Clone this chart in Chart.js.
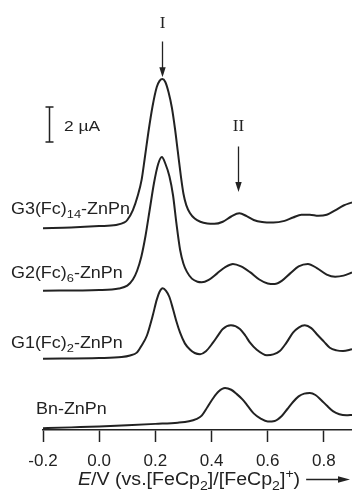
<!DOCTYPE html>
<html>
<head>
<meta charset="UTF-8">
<title>DPV of G(n)(Fc)-ZnPn</title>
<script src="https://cdn.jsdelivr.net/npm/chart.js"></script>
<style>
  html, body { margin: 0; padding: 0; background: #fff; }
</style>
</head>
<body>
<canvas id="chart" width="352" height="494"></canvas>
<script>
// names use _{..} for subscripts
const seriesNames = ['G3(Fc)_{14}-ZnPn', 'G2(Fc)_{6}-ZnPn', 'G1(Fc)_{2}-ZnPn', 'Bn-ZnPn'];
const offsets = [11.5, 7.9, 4.0, 0]; // µA shift of each trace

const g3E = [-0.2, -0.1, 0.0, 0.06, 0.09, 0.10, 0.12, 0.138, 0.151, 0.162, 0.175, 0.19, 0.205, 0.215, 0.225, 0.235, 0.247, 0.259, 0.27, 0.28, 0.29, 0.30, 0.31, 0.323, 0.34, 0.36, 0.385, 0.41, 0.44, 0.47, 0.499, 0.525, 0.55, 0.58, 0.62, 0.66, 0.69, 0.72, 0.75, 0.78, 0.81, 0.84, 0.87, 0.9];
const g3I = [0.03, 0.07, 0.15, 0.22, 0.36, 0.5, 1.07, 1.93, 2.79, 4.0, 5.5, 7.0, 8.1, 8.45, 8.56, 8.4, 7.8, 6.9, 5.7, 4.4, 3.1, 2.0, 1.35, 0.9, 0.58, 0.40, 0.30, 0.28, 0.40, 0.70, 0.88, 0.72, 0.50, 0.38, 0.35, 0.45, 0.64, 0.80, 0.80, 0.74, 0.80, 1.05, 1.33, 1.50];

const g2E = [-0.2, 0.0, 0.07, 0.10, 0.12, 0.135, 0.15, 0.165, 0.18, 0.195, 0.21, 0.223, 0.236, 0.25, 0.263, 0.275, 0.288, 0.30, 0.312, 0.33, 0.35, 0.365, 0.39, 0.42, 0.45, 0.476, 0.505, 0.537, 0.57, 0.60, 0.625, 0.65, 0.68, 0.71, 0.743, 0.775, 0.81, 0.84, 0.87, 0.9];
const g2I = [0.06, 0.10, 0.19, 0.35, 0.70, 1.20, 2.0, 3.2, 4.7, 6.2, 7.3, 7.70, 7.3, 6.6, 5.5, 3.9, 2.4, 1.6, 1.15, 0.75, 0.57, 0.54, 0.68, 1.05, 1.42, 1.59, 1.45, 1.12, 0.70, 0.47, 0.44, 0.62, 1.05, 1.45, 1.59, 1.35, 0.98, 0.86, 0.92, 1.10];

const g1E = [-0.2, 0.0, 0.08, 0.11, 0.134, 0.15, 0.17, 0.19, 0.205, 0.215, 0.226, 0.238, 0.25, 0.263, 0.275, 0.288, 0.305, 0.323, 0.34, 0.359, 0.38, 0.405, 0.425, 0.44, 0.469, 0.501, 0.52, 0.537, 0.56, 0.597, 0.62, 0.643, 0.665, 0.69, 0.71, 0.732, 0.755, 0.775, 0.80, 0.821, 0.845, 0.868, 0.9];
const g1I = [0.07, 0.11, 0.17, 0.26, 0.42, 0.80, 1.40, 2.50, 3.45, 3.90, 4.10, 3.95, 3.60, 2.90, 2.20, 1.56, 0.95, 0.60, 0.40, 0.33, 0.50, 0.99, 1.45, 1.77, 1.98, 1.77, 1.40, 0.99, 0.60, 0.27, 0.32, 0.51, 0.95, 1.56, 1.85, 1.98, 1.82, 1.47, 1.05, 0.70, 0.55, 0.51, 0.61];

const bnE = [-0.2, -0.1, 0.0, 0.1, 0.2, 0.28, 0.32, 0.345, 0.365, 0.385, 0.405, 0.425, 0.448, 0.47, 0.49, 0.51, 0.53, 0.55, 0.575, 0.60, 0.625, 0.65, 0.67, 0.69, 0.71, 0.73, 0.75, 0.77, 0.79, 0.81, 0.832, 0.855, 0.88, 0.9];
const bnI = [0.10, 0.15, 0.20, 0.27, 0.35, 0.42, 0.50, 0.62, 0.82, 1.30, 1.80, 2.20, 2.40, 2.30, 2.05, 1.75, 1.35, 0.95, 0.65, 0.49, 0.52, 0.80, 1.20, 1.60, 1.92, 2.08, 2.11, 2.00, 1.72, 1.40, 1.08, 0.90, 0.84, 0.86];

const xTicks = [-0.2, 0.0, 0.2, 0.4, 0.6, 0.8];
const xTitle = '*E*/V (vs.[FeCp_{2}]/[FeCp_{2}]^{+})';
const peakLabels = ['I', 'II'];
const peakE = [0.225, 0.494];
const scaleBarLabel = '2 µA';

const ink = '#222';
const sans = '"Liberation Sans", Arial, Helvetica, sans-serif';
const serif = '"Liberation Serif", "Times New Roman", serif';
const stretch = 1.12; // the printed lettering is a bit wider than Arial

const curves = [[g3E, g3I], [g2E, g2I], [g1E, g1I], [bnE, bnI]];
const datasets = curves.map(([E, I], k) => ({
  label: seriesNames[k],
  data: E.map((e, j) => ({ x: e, y: I[j] + offsets[k] })),
  borderColor: ink,
  borderWidth: 2,
  pointRadius: 0,
  fill: false,
  cubicInterpolationMode: 'monotone'
}));

// draw a string with _{sub}, ^{sup} and *italic* parts, left aligned at baseline
function richText(ctx, str, x, y, size, family) {
  const parts = str.split(/(_\{[^}]*\}|\^\{[^}]*\}|\*[^*]*\*)/).filter(Boolean);
  let cx = 0;
  ctx.save();
  ctx.translate(x, y);
  ctx.scale(stretch, 1);
  ctx.textAlign = 'left';
  ctx.textBaseline = 'alphabetic';
  parts.forEach(p => {
    let t = p, fs = size, dy = 0, style = '';
    if (p.startsWith('_{')) { t = p.slice(2, -1); fs = size * 0.72; dy = size * 0.28; }
    else if (p.startsWith('^{')) { t = p.slice(2, -1); fs = size * 0.72; dy = -size * 0.42; }
    else if (p.startsWith('*')) { t = p.slice(1, -1); style = 'italic '; }
    ctx.font = style + fs + 'px ' + family;
    ctx.fillText(t, cx, dy);
    cx += ctx.measureText(t).width;
  });
  ctx.restore();
  return x + cx * stretch;
}

function arrowDown(ctx, x, y0, y1) {
  ctx.beginPath();
  ctx.moveTo(x, y0);
  ctx.lineTo(x, y1 - 8);
  ctx.stroke();
  ctx.beginPath();
  ctx.moveTo(x, y1);
  ctx.lineTo(x - 3.2, y1 - 10);
  ctx.lineTo(x + 3.2, y1 - 10);
  ctx.closePath();
  ctx.fill();
}

const annotations = {
  id: 'annotations',
  afterDraw(chart) {
    const { ctx, scales: { x, y } } = chart;
    ctx.save();
    ctx.fillStyle = ink;
    ctx.strokeStyle = ink;
    ctx.lineWidth = 1.3;

    // trace labels
    const labelPos = [[11, 214], [11, 278], [11, 348], [36, 414]];
    seriesNames.forEach((n, k) => richText(ctx, n, labelPos[k][0], labelPos[k][1], 16, sans));

    // peak markers
    const arrowSpan = [[22.2, 20.15], [16.2, 13.6]];
    const labelY = [28, 131];
    peakLabels.forEach((lab, k) => {
      const px = Math.round(x.getPixelForValue(peakE[k])) + 0.5;
      ctx.font = '17px ' + serif;
      ctx.textAlign = 'center';
      ctx.textBaseline = 'alphabetic';
      ctx.fillText(lab, px, labelY[k]);
      arrowDown(ctx, px, y.getPixelForValue(arrowSpan[k][0]), y.getPixelForValue(arrowSpan[k][1]));
    });

    // 2 µA scale bar
    const bx = Math.round(x.getPixelForValue(-0.179)) + 0.5;
    const b0 = y.getPixelForValue(16.46), b1 = y.getPixelForValue(18.46);
    ctx.lineWidth = 1.5;
    ctx.beginPath();
    ctx.moveTo(bx, b0); ctx.lineTo(bx, b1);
    ctx.moveTo(bx - 4, b0); ctx.lineTo(bx + 4, b0);
    ctx.moveTo(bx - 4, b1); ctx.lineTo(bx + 4, b1);
    ctx.stroke();
    richText(ctx, scaleBarLabel, 64, 131, 15.5, sans);

    // x axis title with arrow
    const end = richText(ctx, xTitle, 78, 485, 17.5, sans);
    const ay = 479.5;
    ctx.lineWidth = 1.3;
    ctx.beginPath();
    ctx.moveTo(end + 6, ay); ctx.lineTo(340, ay);
    ctx.stroke();
    ctx.beginPath();
    ctx.moveTo(350, ay); ctx.lineTo(338, ay - 3.2); ctx.lineTo(338, ay + 3.2);
    ctx.closePath();
    ctx.fill();
    ctx.restore();
  }
};

new Chart(document.getElementById('chart'), {
  type: 'line',
  data: { datasets },
  plugins: [annotations],
  options: {
    responsive: false,
    animation: false,
    devicePixelRatio: 1,
    layout: { padding: { left: 43, right: 0, top: 0, bottom: 0 } },
    plugins: { legend: { display: false }, tooltip: { enabled: false } },
    scales: {
      x: {
        type: 'linear',
        min: -0.2,
        max: 0.9,
        afterBuildTicks: s => { s.ticks = xTicks.map(v => ({ value: v })); },
        afterFit: s => { s.height = 64; },
        border: { display: true, color: ink, width: 1.5 },
        grid: { drawOnChartArea: false, drawTicks: true, tickLength: 12, tickColor: ink, tickWidth: 1.5 },
        ticks: {
          color: ink,
          padding: 9,
          maxRotation: 0,
          font: { size: 17, family: sans },
          callback: v => v.toFixed(1)
        }
      },
      y: { display: false, min: 0, max: 24.571 }
    }
  }
});
</script>
</body>
</html>
